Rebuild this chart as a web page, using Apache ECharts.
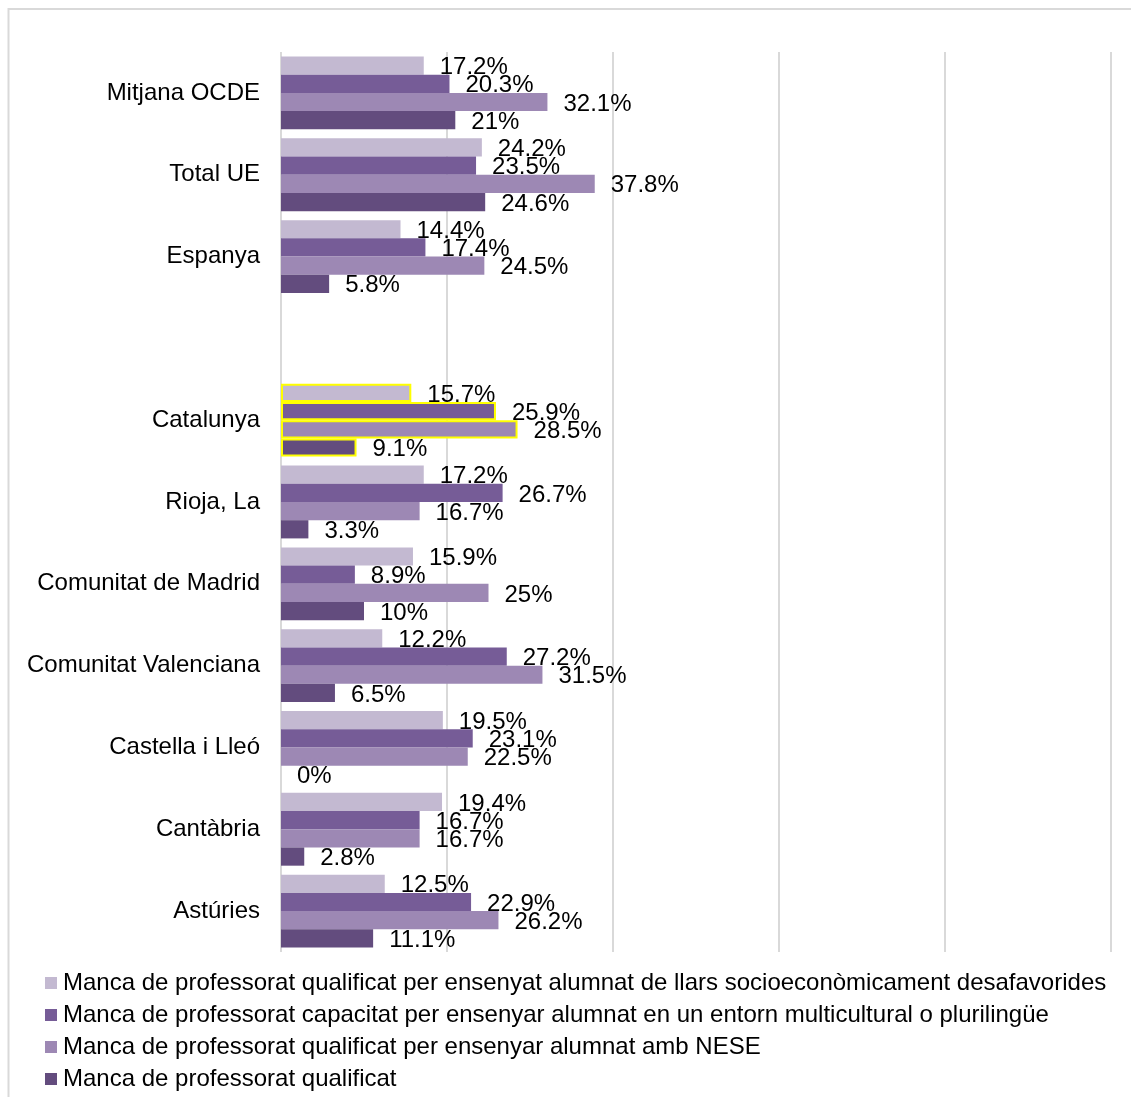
<!DOCTYPE html>
<html>
<head>
<meta charset="utf-8">
<script src="https://cdn.jsdelivr.net/npm/echarts@6/dist/echarts.min.js"></script>
<style>
  html, body { margin: 0; padding: 0; background: #fff; }
  #chart { width: 1131px; height: 1097px; }
</style>
</head>
<body>
<div id="chart"></div>
<script>
// Regions and reference averages (empty string = spacer row between groups)
const categories = [
  'Mitjana OCDE', 'Total UE', 'Espanya', '',
  'Catalunya', 'Rioja, La', 'Comunitat de Madrid', 'Comunitat Valenciana',
  'Castella i Lleó', 'Cantàbria', 'Astúries'
];

const seriesNames = [
  'Manca de professorat qualificat per ensenyat alumnat de llars socioeconòmicament desafavorides',
  'Manca de professorat capacitat per ensenyar alumnat en un entorn multicultural o plurilingüe',
  'Manca de professorat qualificat per ensenyar alumnat amb NESE',
  'Manca de professorat qualificat'
];

// Percentages per category, in the order above
const socioeconomic = [17.2, 24.2, 14.4, null, 15.7, 17.2, 15.9, 12.2, 19.5, 19.4, 12.5];
const multicultural = [20.3, 23.5, 17.4, null, 25.9, 26.7, 8.9, 27.2, 23.1, 16.7, 22.9];
const nese          = [32.1, 37.8, 24.5, null, 28.5, 16.7, 25, 31.5, 22.5, 16.7, 26.2];
const qualified     = [21, 24.6, 5.8, null, 9.1, 3.3, 10, 6.5, 0, 2.8, 11.1];

const xTicks = [0, 20, 40, 60, 80, 100];

const highlighted = 'Catalunya';
const colors = ['#c3b9d1', '#765c97', '#9d88b4', '#634c7e'];
const FONT = '"Liberation Sans", Arial, sans-serif';

function buildData(values) {
  return values.map((v, i) => {
    if (categories[i] === highlighted) {
      return { value: v, itemStyle: { borderColor: '#ffff00', borderWidth: 2 } };
    }
    return v;
  });
}

const valueSets = [socioeconomic, multicultural, nese, qualified];

const chart = echarts.init(document.getElementById('chart'), null, { renderer: 'canvas' });

chart.setOption({
  backgroundColor: '#ffffff',
  animation: false,
  textStyle: { fontFamily: FONT },
  graphic: [{
    type: 'rect',
    shape: { x: 8.5, y: 9, width: 1140, height: 1100 },
    style: { fill: 'none', stroke: '#d9d9d9', lineWidth: 2 },
    silent: true
  }],
  grid: { left: 281, right: 20, top: 52, bottom: 145, containLabel: false },
  xAxis: {
    type: 'value',
    min: xTicks[0],
    max: xTicks[xTicks.length - 1],
    interval: xTicks[1] - xTicks[0],
    axisLabel: { show: false },
    axisTick: { show: false },
    axisLine: { show: false },
    splitLine: { show: true, lineStyle: { color: '#d9d9d9', width: 2 } }
  },
  yAxis: {
    type: 'category',
    inverse: true,
    data: categories,
    axisTick: { show: false },
    axisLine: { show: false },
    axisLabel: { color: '#000', fontSize: 24, fontFamily: FONT, margin: 21 }
  },
  legend: {
    orient: 'vertical',
    left: 45,
    top: 970,
    height: 126,
    padding: 0,
    itemWidth: 12,
    itemHeight: 12,
    itemGap: 6,
    icon: 'rect',
    data: seriesNames,
    textStyle: {
      color: '#000', fontSize: 24, fontFamily: FONT, lineHeight: 26,
      padding: [0, 0, 0, 1]
    }
  },
  series: valueSets.map((vals, k) => ({
    name: seriesNames[k],
    type: 'bar',
    data: buildData(vals),
    barGap: '0%',
    barCategoryGap: '11%',
    itemStyle: { color: colors[k] },
    label: {
      show: true,
      position: 'right',
      distance: 16,
      offset: [0, 2],
      color: '#000',
      fontSize: 24,
      fontFamily: FONT,
      formatter: p => (p.value == null ? '' : p.value + '%')
    }
  }))
});
</script>
</body>
</html>
